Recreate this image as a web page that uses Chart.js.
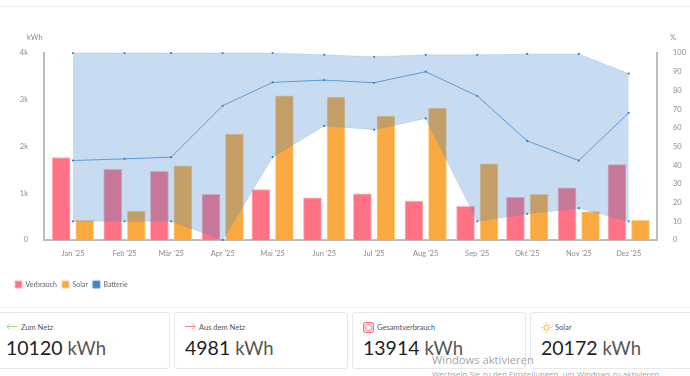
<!DOCTYPE html>
<html>
<head>
<meta charset="utf-8">
<script src="https://cdn.jsdelivr.net/npm/chart.js@4/dist/chart.umd.min.js"></script>
<style>
  html, body { margin: 0; padding: 0; background: #fff; }
  body { width: 690px; height: 376px; overflow: hidden; position: relative; font-family: Lato, sans-serif; }
  #wrap { position: absolute; left: 0; top: 0; width: 690px; height: 301px; }
  .rule { position: absolute; left: 0; width: 690px; height: 1px; background: #efefef; }
  .unit { position: absolute; top: 33px; font-size: 7.5px; color: #8a8a8a; }
  .card { position: absolute; top: 312px; height: 55px; border: 1px solid #e8e8e8; border-radius: 3px; background: #fff; box-sizing: content-box; }
  .card .label { position: absolute; left: 25px; top: 10px; font-size: 7.5px; color: #555; white-space: nowrap; }
  .card svg { position: absolute; left: 10px; top: 9px; }
  .card .value { position: absolute; left: 10px; top: 23px; font-size: 19.5px; line-height: 24px; color: #1f1f1f; white-space: nowrap; }
  .card .value span { color: #555; font-size: 18.5px; }
  .wm { position: absolute; left: 432px; color: rgba(130,130,130,.75); font-family: "Open Sans", sans-serif; white-space: nowrap; }
</style>
</head>
<body>
<div class="rule" style="top:6px"></div>
<div class="rule" style="top:307px"></div>
<div id="wrap"><canvas id="chart"></canvas></div>
<div class="unit" style="left:27px">kWh</div>
<div class="unit" style="left:670px">%</div>

<div class="card" style="left:-5px;width:173px">
  <svg width="11" height="9" viewBox="0 0 11 9"><path d="M11 4.5H1M4 1.5L1 4.5L4 7.5" fill="none" stroke="#a5d68a" stroke-width="1"/></svg>
  <div class="label">Zum Netz</div>
  <div class="value" style="left:10px">10120 <span>kWh</span></div>
</div>
<div class="card" style="left:174px;width:172px">
  <svg width="11" height="9" viewBox="0 0 11 9"><path d="M0 4.5H10M7 1.5L10 4.5L7 7.5" fill="none" stroke="#f5828f" stroke-width="1"/></svg>
  <div class="label" style="left:24px">Aus dem Netz</div>
  <div class="value">4981 <span>kWh</span></div>
</div>
<div class="card" style="left:352px;width:172px">
  <svg width="11" height="11" viewBox="0 0 11 11"><rect x=".5" y=".5" width="10" height="10" rx="2" fill="#fbd3d6" stroke="#f0707e"/><circle cx="5.5" cy="5.5" r="3" fill="#fff" stroke="#f0707e" stroke-width=".8"/></svg>
  <div class="label" style="left:24px">Gesamtverbrauch</div>
  <div class="value">13914 <span>kWh</span></div>
</div>
<div class="card" style="left:530px;width:170px">
  <svg width="11" height="11" viewBox="0 0 11 11"><circle cx="5.5" cy="5.5" r="2.5" fill="none" stroke="#f5b04c"/><path d="M5.5 0V1.5M5.5 9.5V11M0 5.5H1.5M9.5 5.5H11M1.6 1.6L2.6 2.6M8.4 8.4L9.4 9.4M9.4 1.6L8.4 2.6M2.6 8.4L1.6 9.4" stroke="#f5b04c" stroke-width=".8"/></svg>
  <div class="label" style="left:24px">Solar</div>
  <div class="value">20172 <span>kWh</span></div>
</div>
<div class="wm" style="top:352px;font-size:11.2px">Windows aktivieren</div>
<div class="wm" style="top:369px;font-size:7.9px">Wechseln Sie zu den Einstellungen, um Windows zu aktivieren.</div>

<script>
const monthLabels = ["Jan '25", "Feb '25", "Mär '25", "Apr '25", "Mai '25", "Jun '25", "Jul '25", "Aug '25", "Sep '25", "Okt '25", "Nov '25", "Dez '25"];
// days since 1 Jan, the axis is time proportional
const monthDays = [0, 31, 59, 90, 120, 151, 181, 212, 243, 273, 304, 334];
const verbrauch = [1765, 1514, 1471, 979, 1079, 900, 985, 835, 720, 914, 1114, 1614];
const solar = [422, 620, 1585, 2263, 3083, 3056, 2649, 2820, 1627, 979, 608, 422];
const batterieMax = [100, 100, 100, 100, 100, 99, 98, 99, 99, 99.5, 99.5, 89];
const batterieAvg = [42.5, 43.4, 44.3, 71.8, 84.3, 85.5, 84.1, 90, 77, 53, 42.5, 68];
const batterieMin = [10, 10, 10, 0, 44.3, 61, 59, 65, 10, 14, 17, 10];

const points = vals => vals.map((v, i) => ({ x: monthDays[i], y: v }));
const blue = '#3d85c9';
const areaFill = 'rgba(63,134,204,0.29)';

function batteryLine(label, vals, extra) {
  return Object.assign({
    type: 'line',
    label: label,
    data: points(vals),
    yAxisID: 'pct',
    order: 0,
    tension: 0,
    clip: false,
    borderColor: 'rgba(63,134,204,0.15)',
    borderWidth: 1,
    pointRadius: 1.1,
    pointBackgroundColor: '#2f7fd0',
    pointBorderWidth: 0,
    fill: false,
  }, extra);
}

const tickFont = { family: 'Lato, sans-serif', size: 7.5 };

// nudge the legend away from the page edge
const legendShift = {
  id: 'legendShift',
  afterLayout: chart => { chart.legend.left = 10; },
};

new Chart(document.getElementById('chart'), {
  plugins: [legendShift],
  data: {
    datasets: [
      {
        type: 'bar', label: 'Verbrauch', data: points(verbrauch), yAxisID: 'kwh', order: 1,
        backgroundColor: '#ff7285', borderColor: '#ffb3be', borderWidth: 1,
        barThickness: 23.5, maxBarThickness: 18,
      },
      {
        type: 'bar', label: 'Solar', data: points(solar), yAxisID: 'kwh', order: 1,
        backgroundColor: '#f9a93f', borderColor: '#fcd093', borderWidth: 1,
        barThickness: 23.5, maxBarThickness: 18,
      },
      batteryLine('Batterie', batterieAvg, { borderColor: '#5a9bd8', backgroundColor: blue, borderWidth: 1 }),
      batteryLine('Batterie max', batterieMax, { fill: { target: 4 }, backgroundColor: areaFill }),
      batteryLine('Batterie min', batterieMin, {}),
    ],
  },
  options: {
    responsive: true,
    maintainAspectRatio: false,
    animation: false,
    layout: { padding: { top: 53, left: 0, right: 0, bottom: 3 } },
    scales: {
      x: {
        type: 'linear',
        offset: false,
        min: -17.4,
        max: 351,
        grid: { display: false, drawTicks: true, tickLength: 5, tickColor: '#bdbdbd' },
        border: { color: '#bdbdbd', width: 2 },
        afterBuildTicks: axis => { axis.ticks = monthDays.map(d => ({ value: d })); },
        afterFit: axis => { axis.height = 36; },
        ticks: {
          autoSkip: false, maxRotation: 0, color: '#8c8c8c', font: tickFont, padding: 4,
          callback: value => monthLabels[monthDays.indexOf(value)],
        },
      },
      kwh: {
        position: 'left', min: 0, max: 4000,
        grid: { display: false },
        border: { color: '#bdbdbd', width: 2 },
        afterFit: axis => { axis.width = 44; },
        ticks: {
          stepSize: 1000, color: '#8c8c8c', font: tickFont, padding: 8,
          callback: v => (v === 0 ? '0' : v / 1000 + 'k'),
        },
      },
      pct: {
        position: 'right', min: 0, max: 100,
        grid: { display: false },
        border: { color: '#bdbdbd', width: 2 },
        afterFit: axis => { axis.width = 33; },
        ticks: { stepSize: 10, color: '#8c8c8c', font: tickFont, padding: 8 },
      },
    },
    plugins: {
      tooltip: { enabled: false },
      legend: {
        display: true,
        position: 'bottom',
        align: 'start',
        labels: {
          boxWidth: 7, boxHeight: 7, padding: 5, color: '#666',
          font: { family: 'Lato, sans-serif', size: 7 },
          filter: item => ['Verbrauch', 'Solar', 'Batterie'].includes(item.text),
          sort: (a, b) => a.datasetIndex - b.datasetIndex,
        },
      },
    },
  },
});
</script>
</body>
</html>
